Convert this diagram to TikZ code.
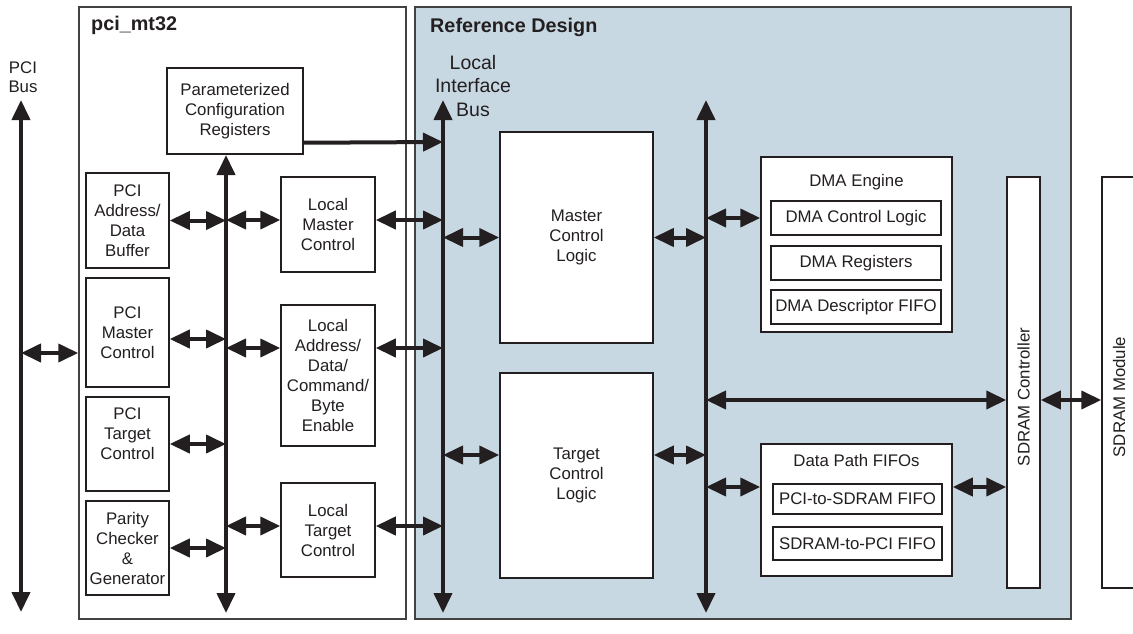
\documentclass[tikz,border=0pt]{standalone}
\usepackage{fontspec}
\setmainfont{Liberation Sans}
\usepackage{tikz}
\usetikzlibrary{arrows.meta, positioning}
\definecolor{refblue}{RGB}{200,216,226}
\definecolor{ink}{RGB}{35,31,32}
\tikzstyle{frame} = [rectangle, draw=ink!85, line width=1.5pt, inner sep=0pt]
\tikzstyle{block} = [rectangle, draw=ink, line width=1.5pt, fill=white, align=center, inner sep=0pt, text=ink, font=\fontsize{16.8}{20}\selectfont]
\tikzstyle{txt} = [align=center, inner sep=0pt, text=ink, font=\fontsize{16.8}{20}\selectfont]
\tikzstyle{title} = [inner sep=0pt, text=ink, font=\fontsize{19.8}{23}\selectfont\bfseries]
\tikzstyle{bus} = [line width=4pt, draw=ink, {Triangle[length=20pt,width=18pt]}-{Triangle[length=20pt,width=18pt]}]
\tikzstyle{onearrow} = [line width=4pt, draw=ink, -{Triangle[length=20pt,width=18pt]}]

\begin{document}
\begin{tikzpicture}[x=1pt,y=-1pt]
\clip (0,0) rectangle (1133,634);
% frames
\node[frame, minimum width=327pt, minimum height=612pt] (mt32) at (242.5,313) {};
\node[frame, fill=refblue, minimum width=656pt, minimum height=612pt] (refdes) at (743,313) {};
\node[title, anchor=base west] (mt32title) at (91,31) {pci\_mt32};
\node[title, anchor=base west] (reftitle) at (430,33) {Reference Design};
\node[txt, font=\fontsize{16.8}{19.5}\selectfont] (pcilabel) at (23,77) {PCI\\Bus};
\node[txt, font=\fontsize{19.5}{23.5}\selectfont] (lblabel) at (473,86) {Local\\Interface\\Bus};

% bus ends
\coordinate (pcitop) at (21,100);
\coordinate (pcibot) at (21,612);
\coordinate (ibustop) at (226,155);
\coordinate (ibusbot) at (226,613);
\coordinate (lbustop) at (443,100);
\coordinate (lbusbot) at (443,613);
\coordinate (dbustop) at (706,100);
\coordinate (dbusbot) at (706,613);

% pci_mt32 blocks
\node[block, minimum width=136pt, minimum height=86pt] (param) at (235,111) {Parameterized\\Configuration\\Registers};
\node[block, minimum width=83pt, minimum height=95pt] (pciadb) at (127.5,220.5) {PCI\\Address/\\Data\\Buffer};
\node[block, minimum width=83pt, minimum height=109pt] (pcimc) at (127.5,332.5) {PCI\\Master\\Control};
\node[block, minimum width=83pt, minimum height=94pt] (pcitc) at (127.5,444) {PCI\\Target\\Control\\\mbox{}};
\node[block, minimum width=83pt, minimum height=94pt] (parity) at (127.5,548) {Parity\\Checker\\\&\\Generator};
\node[block, minimum width=94pt, minimum height=95pt] (lmc) at (328,224.5) {Local\\Master\\Control};
\node[block, minimum width=94pt, minimum height=141pt] (lad) at (328,375.5) {Local\\Address/\\Data/\\Command/\\Byte\\Enable};
\node[block, minimum width=94pt, minimum height=94pt] (ltc) at (328,530) {Local\\Target\\Control};

% reference design blocks
\node[block, minimum width=153pt, minimum height=211pt] (mcl) at (576.5,237.5) {Master\\Control\\Logic};
\node[block, minimum width=153pt, minimum height=205pt] (tcl) at (576.5,475.5) {Target\\Control\\Logic};
\node[block, minimum width=191pt, minimum height=175pt] (dma) at (856.5,244.5) {};
\node[txt, below=18pt of dma.north] (dmatitle) {DMA Engine};
\node[block, minimum width=170pt, minimum height=34pt] (dmactl) at (856,218) {DMA Control Logic};
\node[block, minimum width=170pt, minimum height=34pt] (dmareg) at (856,263) {DMA Registers};
\node[block, minimum width=170pt, minimum height=34pt] (dmafifo) at (856,307) {DMA Descriptor FIFO};
\node[block, minimum width=191pt, minimum height=132pt] (dpf) at (856.5,510) {};
\node[txt, below=11pt of dpf.north] (dpftitle) {Data Path FIFOs};
\node[block, minimum width=169pt, minimum height=30pt] (p2s) at (857.5,499) {PCI-to-SDRAM FIFO};
\node[block, minimum width=169pt, minimum height=33pt] (s2p) at (857.5,543.5) {SDRAM-to-PCI FIFO};
\node[block, minimum width=33pt, minimum height=411pt] (sdramctl) at (1023.5,382.5) {};
\node[txt, rotate=90] (ctltext) at (1023.5,397) {SDRAM Controller};
\node[block, minimum width=34pt, minimum height=411pt] (sdrammod) at (1119,382.5) {};
\node[txt, rotate=90] (modtext) at (1119,397) {SDRAM Module};

% buses
\draw[bus] (pcitop) -- (pcibot);
\draw[bus] (ibustop) -- (ibusbot);
\draw[bus] (lbustop) -- (lbusbot);
\draw[bus] (dbustop) -- (dbusbot);

% connections
\draw[bus] (0,353 -| pcitop) -- (0,353 -| mt32.west);
\draw[bus] (pciadb.east) -- (pciadb.east -| ibustop);
\draw[bus] (ibustop |- 0,220) -- (lmc.west |- 0,220);
\draw[bus] (lmc.east |- 0,220) -- (lbustop |- 0,220);
\draw[bus] (pcimc.east |- 0,339) -- (ibustop |- 0,339);
\draw[bus] (ibustop |- 0,348) -- (lad.west |- 0,348);
\draw[bus] (lad.east |- 0,348) -- (lbustop |- 0,348);
\draw[bus] (pcitc.east) -- (pcitc.east -| ibustop);
\draw[bus] (parity.east) -- (parity.east -| ibustop);
\draw[bus] (ibustop |- 0,526) -- (ltc.west |- 0,526);
\draw[bus] (ltc.east |- 0,526) -- (lbustop |- 0,526);
\draw[onearrow] ([yshift=12pt]param.south east) -- (lbustop |- 0,142);
\draw[bus] (lbustop |- mcl.west) -- (mcl.west);
\draw[bus] (mcl.east) -- (mcl.east -| dbustop);
\draw[bus] (lbustop |- 0,455) -- (tcl.west |- 0,455);
\draw[bus] (tcl.east |- 0,455) -- (dbustop |- 0,455);
\draw[bus] (dbustop |- dmactl) -- (dma.west |- dmactl);
\draw[bus] (dbustop |- 0,400) -- (sdramctl.west |- 0,400);
\draw[bus] (sdramctl.east |- 0,400) -- (sdrammod.west |- 0,400);
\draw[bus] (dbustop |- 0,487) -- (dpf.west |- 0,487);
\draw[bus] (dpf.east |- 0,487) -- (sdramctl.west |- 0,487);
\end{tikzpicture}
\end{document}
